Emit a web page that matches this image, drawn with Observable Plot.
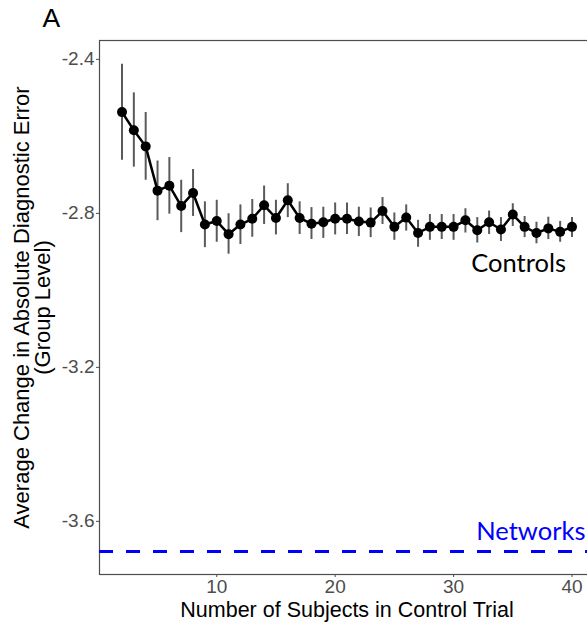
<!DOCTYPE html>
<html>
<head>
<meta charset="utf-8">
<script src="https://cdn.jsdelivr.net/npm/d3@7"></script>
<script src="https://cdn.jsdelivr.net/npm/@observablehq/plot@0.6"></script>
<style>
  html, body { margin: 0; padding: 0; background: #fff; overflow: hidden; }
  #chart { width: 587px; height: 623px; overflow: hidden; }
  #chart svg { max-width: none !important; }
</style>
</head>
<body>
<div id="chart"></div>
<script>
const subjects = [2,3,4,5,6,7,8,9,10,11,12,13,14,15,16,17,18,19,20,21,22,23,24,25,26,27,28,29,30,31,32,33,34,35,36,37,38,39,40];
const meanErr = [-2.537,-2.584,-2.626,-2.741,-2.728,-2.781,-2.747,-2.829,-2.820,-2.854,-2.829,-2.814,-2.779,-2.812,-2.766,-2.812,-2.827,-2.823,-2.814,-2.814,-2.821,-2.824,-2.794,-2.835,-2.811,-2.851,-2.835,-2.835,-2.835,-2.818,-2.844,-2.823,-2.842,-2.803,-2.835,-2.851,-2.839,-2.848,-2.835];
const upperErr = [-2.413,-2.487,-2.538,-2.664,-2.655,-2.714,-2.686,-2.770,-2.766,-2.801,-2.778,-2.764,-2.729,-2.766,-2.723,-2.770,-2.785,-2.784,-2.773,-2.773,-2.784,-2.786,-2.759,-2.799,-2.778,-2.818,-2.803,-2.803,-2.803,-2.788,-2.811,-2.794,-2.811,-2.775,-2.808,-2.823,-2.810,-2.821,-2.811];
const lowerErr = [-2.662,-2.680,-2.714,-2.819,-2.802,-2.850,-2.808,-2.889,-2.875,-2.906,-2.881,-2.862,-2.829,-2.856,-2.811,-2.855,-2.868,-2.865,-2.856,-2.855,-2.860,-2.863,-2.829,-2.870,-2.846,-2.888,-2.870,-2.868,-2.870,-2.851,-2.877,-2.855,-2.873,-2.834,-2.863,-2.879,-2.868,-2.875,-2.863];
const networksValue = -3.678;
const xTicks = [10, 20, 30, 40];
const yTicks = [-2.4, -2.8, -3.2, -3.6];
const panelLabel = "A";
const xTitle = "Number of Subjects in Control Trial";
const yTitle = "Average Change in Absolute Diagnostic Error\n(Group Level)";
const controlsLabel = "Controls";
const networksLabel = "Networks";

const rows = subjects.map((n, i) => ({n, mean: meanErr[i], lo: lowerErr[i], hi: upperErr[i]}));
const SANS = "'Liberation Sans', Arial, sans-serif";
const LABEL = "Lato, 'Open Sans', sans-serif";

const plot = Plot.plot({
  width: 600,
  height: 623,
  marginLeft: 99,
  marginTop: 40,
  marginBottom: 49,
  marginRight: 6,
  style: {fontFamily: SANS, background: "#fff", maxWidth: "none"},
  x: {domain: [0.1, 41.9]},
  y: {domain: [-3.738, -2.351]},
  marks: [
    Plot.frame({stroke: "#4d4d4d", strokeWidth: 1.2}),
    Plot.axisY({ticks: yTicks, tickFormat: d => d.toFixed(1), tickSize: 3, tickPadding: 2, fontSize: 19, fontFamily: SANS, color: "#4d4d4d", label: null}),
    Plot.axisX({ticks: xTicks, tickSize: 3, tickPadding: 2, fontSize: 19, fontFamily: SANS, color: "#4d4d4d", label: null}),
    Plot.ruleY([networksValue], {stroke: "#0000ff", strokeWidth: 3, strokeDasharray: "14 13"}),
    Plot.ruleX(rows, {x: "n", y1: "lo", y2: "hi", stroke: "#5a5a5a", strokeWidth: 2}),
    Plot.line(rows, {x: "n", y: "mean", stroke: "#000", strokeWidth: 2.5}),
    Plot.dot(rows, {x: "n", y: "mean", r: 5, fill: "#000", stroke: "none"}),
    Plot.text([controlsLabel], {x: 40, y: -2.932, text: d => d, textAnchor: "end", dx: -6, fontSize: 25.5, fontFamily: LABEL, fill: "#000"}),
    Plot.text([networksLabel], {x: 32, y: -3.626, text: d => d, textAnchor: "start", dx: -1, fontSize: 25.5, fontFamily: LABEL, fill: "#0000ff"}),
    Plot.text([panelLabel], {frameAnchor: "top-left", text: d => d, dx: -57, dy: -32, fontSize: 26.5, fontFamily: SANS, fill: "#000", textAnchor: "start", lineAnchor: "top"}),
    Plot.text([xTitle], {frameAnchor: "bottom", text: d => d, dy: 35.5, fontSize: 21.5, fontFamily: SANS, fill: "#000", textAnchor: "middle", lineAnchor: "middle"}),
    Plot.text([yTitle], {frameAnchor: "left", text: d => d, rotate: -90, dx: -67, fontSize: 22, fontFamily: SANS, fill: "#000", textAnchor: "middle", lineAnchor: "middle", lineHeight: 0.98})
  ]
});
document.getElementById("chart").appendChild(plot);
</script>
</body>
</html>
